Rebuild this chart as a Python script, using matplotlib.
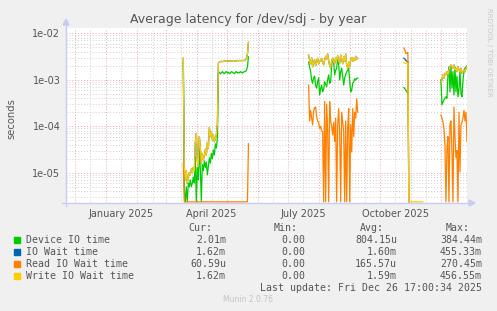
#
#   Munin style latency graph, log scale, one year
#

import numpy as np
import pandas as pd
import matplotlib
matplotlib.use("Agg")
import matplotlib.pyplot as plt
import matplotlib.dates as mdates
import matplotlib.ticker as mtick
from matplotlib.lines import Line2D
from matplotlib.patches import Polygon, Rectangle
from matplotlib import rcParams

rcParams['font.family'] = 'DejaVu Sans'
rcParams['axes.linewidth'] = 1.0

W, H = 497, 311

# ---- data (seconds, one value per day; 0 = idle, nan = no data) ----
series_names = ['Device IO time', 'IO Wait time', 'Read IO Wait time', 'Write IO Wait time']
series_colors = ['#00CC00', '#0066B3', '#FF8000', '#FFCC00']

seg_starts = ['2025-03-18', '2025-07-21', '2025-10-24', '2025-11-30']

device_a = [2.4e-3, 4e-6, 0, 5e-6, 0, 6e-6, 5e-6, 7e-6, 5e-6, 6e-6, 8e-6, 6e-6,
            2.2e-5, 0, 1.3e-5, 7e-6, 3.2e-5, 1.2e-5, 0, 1.5e-5, 1.1e-5, 1.8e-5,
            1.3e-5, 1.7e-5, 9e-6, 1.4e-5, 2.1e-5, 1.6e-5, 2.6e-5, 2.0e-5, 3.1e-5,
            2.4e-5, 4.2e-5, 3.4e-5, 5.5e-5, 1.4e-3,
            1.45e-3, 1.35e-3, 1.4e-3, 1.5e-3, 1.4e-3, 1.35e-3, 1.45e-3, 1.5e-3,
            1.4e-3, 1.45e-3, 1.35e-3, 1.4e-3, 1.5e-3, 1.45e-3, 1.4e-3, 1.35e-3,
            1.45e-3, 1.5e-3, 1.4e-3, 1.45e-3, 1.4e-3, 1.5e-3, 1.45e-3, 1.4e-3,
            1.45e-3, 1.5e-3, 1.5e-3, 1.6e-3, 1.9e-3, 3.1e-3]
write_a = [2.9e-3, 1.3e-5, 7e-6, 1.1e-5, 6e-6, 8e-6, 1.0e-5, 9e-6, 1.2e-5, 1.0e-5,
           1.3e-5, 1.1e-5, 4.5e-5, 7e-5, 1.8e-5, 1.4e-5, 6e-5, 3.5e-5, 1.6e-5,
           2.6e-5, 1.9e-5, 2.3e-5, 3.2e-5, 2.4e-5, 4.5e-5, 3.3e-5, 9.5e-5, 6e-5,
           7.5e-5, 5e-5, 6.5e-5, 4.6e-5, 5.5e-5, 6.5e-5, 1.1e-4, 2.3e-3,
           2.4e-3, 2.45e-3, 2.5e-3, 2.45e-3, 2.5e-3, 2.5e-3, 2.55e-3, 2.5e-3,
           2.5e-3, 2.55e-3, 2.5e-3, 2.55e-3, 2.5e-3, 2.55e-3, 2.6e-3, 2.55e-3,
           2.5e-3, 2.55e-3, 2.6e-3, 2.55e-3, 2.6e-3, 2.6e-3, 2.55e-3, 2.6e-3,
           2.6e-3, 2.6e-3, 2.7e-3, 2.9e-3, 3.6e-3, 6.4e-3]
read_a = [1.6e-5] + [0] * 64 + [4.2e-5]

device_b = [2.4e-3, 1.9e-3, 1.5e-3, 1.0e-3, 8.4e-4, 1.1e-3, 1.2e-3, 7.5e-4, 6.6e-4,
            9e-4, 1.1e-3, 4.7e-4, 6.5e-4, 7.7e-4, 5.5e-4, 6.2e-4, 9.1e-4, 8e-4,
            7.1e-4, 1.0e-3, 1.27e-3, 8.4e-4, 9e-4, 2.0e-3, 2.9e-3, 2.3e-3, 1.27e-3,
            1.6e-3, 1.77e-3, 2.9e-3, 2.2e-3, 9.9e-4, 1.5e-3, 1.77e-3, 1.2e-3,
            7.7e-4, 1.1e-3, 1.27e-3, 1.49e-3, 1.6e-3, 1.77e-3, 9.1e-4, 5.5e-4,
            6e-4, 8.4e-4, 9e-4, 1.05e-3, 9.9e-4, 1.08e-3, 1.08e-3]
write_b = [3.4e-3, 2.6e-3, 2.2e-3, 3.0e-3, 1.9e-3, 2.4e-3, 2.7e-3, 2.0e-3, 2.4e-3,
           2.9e-3, 2.2e-3, 2.6e-3, 2.5e-3, 2.9e-3, 2.4e-3, 2.1e-3, 2.7e-3, 3.2e-3,
           2.8e-3, 3.6e-3, 2.6e-3, 2.0e-3, 1.8e-3, 2.5e-3, 2.9e-3, 2.4e-3, 2.2e-3,
           3.0e-3, 2.6e-3, 3.3e-3, 2.5e-3, 2.3e-3, 3.4e-3, 2.8e-3, 2.2e-3, 3.1e-3,
           2.5e-3, 3.6e-3, 2.0e-3, 1.8e-3, 2.4e-3, 1.9e-3, 2.7e-3, 3.0e-3, 2.5e-3,
           2.9e-3, 2.6e-3, 3.2e-3, 2.8e-3, 2.9e-3]
read_b = [7.7e-4, 1.3e-4, 2.2e-4, 1.5e-4, 1.07e-4, 2.1e-4, 2.5e-4, 2.6e-4, 1.6e-4,
          1.3e-4, 1.2e-4, 9e-5, 1.0e-4, 8e-5, 7.6e-5, 0, 3.4e-4, 0, 3.0e-4, 8e-5,
          0, 3.4e-4, 1.3e-4, 1.0e-4, 6.5e-5, 1.2e-4, 4.7e-5, 1.5e-4, 0, 1.07e-4,
          2.4e-4, 7e-5, 0, 2.0e-4, 1.2e-4, 7.6e-5, 0, 1.3e-4, 0, 9e-5, 2.4e-4, 0,
          1.07e-4, 2.8e-5, 2.4e-4, 6e-5, 2.0e-4, 1.5e-4, 3.9e-4, 2.0e-4]

device_c = [6.8e-4, 6.4e-4, 6.0e-4, 5.5e-4, 5.0e-4]
iowait_c = [2.9e-3, 2.8e-3, 2.6e-3, 2.5e-3, 2.5e-3, 0]
read_c = [4.8e-3, 4.4e-3, 3.7e-3, 3.7e-3, 3.9e-3, 0]
write_c = [2.3e-3, 2.3e-3, 2.25e-3, 2.3e-3, 2.25e-3] + [0] * 15

device_d = [1.0e-3, 2.9e-4, 3.3e-4, 3.7e-4, 4e-4, 4.3e-4, 4.0e-4, 1.27e-3, 1.9e-3,
            5.5e-4, 2.0e-3, 6.6e-4, 1.5e-3, 4.7e-4, 1.9e-3, 5.5e-4, 1.2e-3, 4.3e-4,
            6e-4, 1.6e-3, 5e-4, 4.3e-4, 1.0e-3, 1.5e-3, 1.8e-3, 1.9e-3, 2.0e-3]
write_d = [8.4e-4, 9.9e-4, 1.27e-3, 1.08e-3, 1.38e-3, 1.27e-3, 1.49e-3, 1.27e-3,
           1.63e-3, 1.92e-3, 2.08e-3, 1.92e-3, 1.77e-3, 2.08e-3, 1.63e-3, 1.77e-3,
           1.49e-3, 1.92e-3, 1.63e-3, 1.49e-3, 1.77e-3, 1.38e-3, 1.49e-3, 1.63e-3,
           1.49e-3, 1.77e-3, 1.92e-3]
read_d = [1.75e-4, 1.5e-4, 1.26e-4, 9e-5, 4e-5, 0, 3.3e-5, 6e-5, 0, 1.1e-4, 1.3e-4,
          2.8e-5, 0, 2.6e-4, 6e-5, 2.1e-5, 3e-5, 0, 2.0e-4, 1.05e-5, 1.07e-4,
          1.2e-4, 1.48e-4, 2.2e-4, 1.3e-4, 2.0e-4, 4.7e-5]

# io wait sits under the write line almost everywhere
segments = {
    'Device IO time': [device_a, device_b, device_c, device_d],
    'IO Wait time': [write_a, write_b, iowait_c, write_d],
    'Read IO Wait time': [read_a, read_b, read_c, read_d],
    'Write IO Wait time': [write_a, write_b, write_c, write_d],
}

legend_cur = ['2.01m', '1.62m', '60.59u', '1.62m']
legend_min = ['0.00', '0.00', '0.00', '0.00']
legend_avg = ['804.15u', '1.60m', '165.57u', '1.59m']
legend_max = ['384.44m', '455.33m', '270.45m', '456.55m']

t_end = pd.Timestamp('2025-12-26 17:00')
t_start = t_end - pd.Timedelta(days=400)
y_lo, y_hi = 2.23e-6, 1.3e-2

days = pd.date_range(t_start, t_end, freq='D')


def build(segs):
    s = pd.Series(np.nan, index=days)
    for d0, vals in zip(seg_starts, segs):
        idx = pd.date_range(pd.Timestamp(d0) + pd.Timedelta(hours=17), periods=len(vals), freq='D')
        s[idx] = vals
    return s


# ---- figure ----
fig = plt.figure(figsize=(W / 100, H / 100), dpi=100)
fig.patch.set_facecolor('#F0F0F0')
ax = fig.add_axes([66 / W, 1 - 203 / H, 401 / W, 175 / H])
ax.set_facecolor('white')

for name, col in zip(series_names, series_colors):
    s = build(segments[name])
    ax.plot(s.index, np.maximum(s.values, y_lo * 1.06), color=col, lw=0.9)

ax.set_yscale('log')
ax.set_ylim(y_lo, y_hi)
ax.set_xlim(t_start, t_end)

grid_major = '#E8A8A8'
grid_minor = '#D0D0D0'
ax.yaxis.set_major_locator(mtick.LogLocator(base=10))
ax.yaxis.set_minor_locator(mtick.LogLocator(base=10, subs=np.arange(2, 10)))
ax.yaxis.set_major_formatter(mtick.FuncFormatter(lambda v, p: '%.0e' % v))
ax.yaxis.set_minor_formatter(mtick.NullFormatter())

ax.xaxis.set_major_locator(mdates.MonthLocator())
ax.xaxis.set_major_formatter(mtick.NullFormatter())
ax.xaxis.set_minor_locator(mdates.MonthLocator(bymonthday=16))
ax.xaxis.set_minor_formatter(mtick.FuncFormatter(
    lambda v, p: mdates.num2date(v).strftime('%B %Y') if mdates.num2date(v).month in (1, 4, 7, 10) else ''))

ax.grid(True, which='minor', color=grid_minor, ls=(0, (1, 2)), lw=0.7)
ax.grid(True, which='major', color=grid_major, ls=(0, (1, 2)), lw=0.7)
ax.set_axisbelow(True)

ax.tick_params(axis='both', which='both', length=0, colors='#555555', labelsize=7)
ax.tick_params(axis='y', pad=4)
ax.tick_params(axis='x', which='minor', pad=4)

axis_col = '#C8CCF2'
for side in ['top', 'right', 'left', 'bottom']:
    ax.spines[side].set_visible(False)


def fx(x):
    return x / W


def fy(y):
    return 1 - y / H


fig.add_artist(Line2D([fx(66), fx(66)], [fy(206), fy(24)], color=axis_col, lw=1))
fig.add_artist(Line2D([fx(62), fx(470)], [fy(203), fy(203)], color=axis_col, lw=1))
fig.add_artist(Polygon([(fx(63), fy(25)), (fx(69), fy(25)), (fx(66), fy(19))],
                       closed=True, color=axis_col, transform=fig.transFigure))
fig.add_artist(Polygon([(fx(469), fy(200)), (fx(469), fy(206)), (fx(475), fy(203))],
                       closed=True, color=axis_col, transform=fig.transFigure))

fig.text(fx(11), fy(119), 'seconds', rotation=90, ha='center', va='center',
         fontsize=7.2, color='#555555')

fig.text(fx(248), fy(19), 'Average latency for /dev/sdj - by year',
         ha='center', va='center', fontsize=9, color='#555555')
fig.text(fx(489), fy(52), 'RRDTOOL / TOBI OETIKER', rotation=270,
         ha='center', va='center', fontsize=5, color='#C8C8C8')

# ---- legend ----
mono = 'DejaVu Sans Mono'
lfs = 7.1
tcol = '#555555'
fig.text(fx(212), fy(228), 'Cur:', ha='right', va='center', family=mono, fontsize=lfs, color=tcol)
fig.text(fx(298), fy(228), 'Min:', ha='right', va='center', family=mono, fontsize=lfs, color=tcol)
fig.text(fx(384), fy(228), 'Avg:', ha='right', va='center', family=mono, fontsize=lfs, color=tcol)
fig.text(fx(470), fy(228), 'Max:', ha='right', va='center', family=mono, fontsize=lfs, color=tcol)

row_y = [240, 252, 264, 276]
for i, name in enumerate(series_names):
    y = row_y[i]
    fig.add_artist(Rectangle((fx(14), fy(y + 3)), 6 / W, 6 / H, color=series_colors[i],
                             transform=fig.transFigure))
    fig.text(fx(26), fy(y), name, ha='left', va='center', family=mono, fontsize=lfs, color=tcol)
    fig.text(fx(226), fy(y), legend_cur[i], ha='right', va='center', family=mono, fontsize=lfs, color=tcol)
    fig.text(fx(305), fy(y), legend_min[i], ha='right', va='center', family=mono, fontsize=lfs, color=tcol)
    fig.text(fx(397), fy(y), legend_avg[i], ha='right', va='center', family=mono, fontsize=lfs, color=tcol)
    fig.text(fx(482), fy(y), legend_max[i], ha='right', va='center', family=mono, fontsize=lfs, color=tcol)

fig.text(fx(482), fy(288), 'Last update: Fri Dec 26 17:00:34 2025', ha='right', va='center',
         family=mono, fontsize=lfs, color=tcol)
fig.text(fx(248), fy(300), 'Munin 2.0.76', ha='center', va='center', fontsize=5.5, color='#C4C4C4')

fig.savefig('out.png', dpi=100, facecolor=fig.get_facecolor())
